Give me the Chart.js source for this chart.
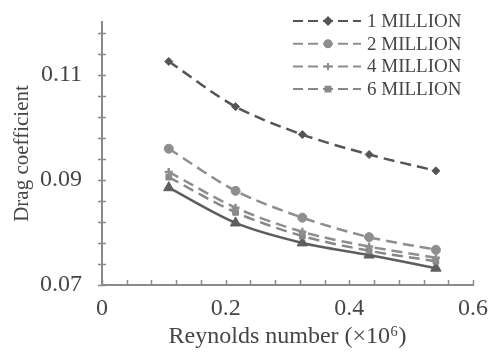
<!DOCTYPE html>
<html>
<head>
<meta charset="utf-8">
<script src="https://cdn.jsdelivr.net/npm/chart.js@4.4.1/dist/chart.umd.min.js"></script>
<style>
  html, body { margin: 0; padding: 0; background: #fff; }
</style>
</head>
<body>
<canvas id="myChart" width="489" height="354"></canvas>
<script>
// datos
const reynolds = [0.108, 0.216, 0.324, 0.432, 0.54];
const cd1M = [0.1125, 0.1039, 0.0986, 0.0948, 0.0917];
const cd2M = [0.0959, 0.0879, 0.0828, 0.0791, 0.0767];
const cd4M = [0.0915, 0.0847, 0.0801, 0.0773, 0.0752];
const cd6M = [0.0905, 0.0838, 0.0793, 0.0765, 0.0745];
const cdBase = [0.0885, 0.0818, 0.0780, 0.0757, 0.0732];
const seriesLabels = ['1 MILLION', '2 MILLION', '4 MILLION', '6 MILLION', ''];

// ticks de los ejes
const xTickValues = [0, 0.04, 0.08, 0.12, 0.16, 0.2, 0.24, 0.28, 0.32, 0.36, 0.4, 0.44, 0.48, 0.52, 0.56, 0.6];
const xMajor = [0, 0.2, 0.4, 0.6];
const xTickLabels = ['0', '0.2', '0.4', '0.6'];
const yTickValues = [0.07, 0.074, 0.078, 0.082, 0.086, 0.09, 0.094, 0.098, 0.102, 0.106, 0.11, 0.114, 0.118];
const yMajor = [0.07, 0.09, 0.11];
const yTickLabels = ['0.07', '0.09', '0.11'];

const serif = "'Liberation Serif', 'Times New Roman', serif";
const axisColor = '#8a8a8a';
const textColor = '#454545';

const toPoints = (ys) => reynolds.map((x, i) => ({ x: x, y: ys[i] }));

const labelFor = (majors, labels) => (v) => {
  const i = majors.findIndex(m => Math.abs(m - v) < 1e-6);
  return i >= 0 ? labels[i] : '';
};

function serie(label, ys, color, style, radius, dash) {
  return {
    label: label,
    data: toPoints(ys),
    borderColor: color,
    backgroundColor: color,
    borderWidth: 2.5,
    borderDash: dash,
    pointStyle: style,
    pointRadius: radius,
    pointBorderWidth: style === 'cross' ? 2.5 : 1,
    tension: 0.3,
    fill: false
  };
}

// sin relleno extra de las escalas, el area la fija layout.padding
function sinPadding(s) {
  s.paddingTop = 0;
  s.paddingBottom = 0;
  s.paddingLeft = 0;
  s.paddingRight = 0;
}

// ticks cruzando los ejes + leyenda dentro del area
const axisDeco = {
  id: 'axisDeco',
  afterDraw(chart) {
    const { ctx, chartArea: a, scales: { x, y } } = chart;
    ctx.save();
    ctx.strokeStyle = axisColor;
    ctx.lineWidth = 1.5;
    ctx.setLineDash([]);
    ctx.beginPath();
    y.ticks.forEach(t => {
      const py = Math.round(y.getPixelForValue(t.value)) + 0.5;
      ctx.moveTo(a.left - 4, py);
      ctx.lineTo(a.left + 4, py);
    });
    x.ticks.forEach(t => {
      const px = Math.round(x.getPixelForValue(t.value)) + 0.5;
      ctx.moveTo(px, a.bottom);
      ctx.lineTo(px, a.bottom - 5);
    });
    ctx.stroke();

    // leyenda
    ctx.font = '19px ' + serif;
    ctx.textBaseline = 'middle';
    ctx.textAlign = 'left';
    for (let i = 0; i < 4; i++) {
      const ds = chart.data.datasets[i];
      const ly = 21 + i * 22.7;
      ctx.strokeStyle = ds.borderColor;
      ctx.fillStyle = ds.borderColor;
      ctx.lineWidth = 2;
      ctx.setLineDash([10, 5]);
      ctx.beginPath();
      ctx.moveTo(293, ly);
      ctx.lineTo(361, ly);
      ctx.stroke();
      ctx.setLineDash([]);
      Chart.helpers.drawPoint(ctx, {
        pointStyle: ds.pointStyle, radius: 3.5, rotation: 0,
        borderWidth: 1.5
      }, 328, ly);
      ctx.fillStyle = textColor;
      ctx.fillText(ds.label, 367, ly + 1);
    }
    ctx.restore();
  }
};

const ctx = document.getElementById('myChart');
const myChart = new Chart(ctx, {
  type: 'line',
  data: {
    datasets: [
      serie(seriesLabels[0], cd1M, '#555555', 'rectRot', 4, [11, 6]),
      serie(seriesLabels[1], cd2M, '#8e8e8e', 'circle', 4.5, [11, 6]),
      serie(seriesLabels[2], cd4M, '#8e8e8e', 'cross', 4, [11, 6]),
      serie(seriesLabels[3], cd6M, '#888888', 'rect', 4, [11, 6]),
      serie(seriesLabels[4], cdBase, '#5e5e5e', 'triangle', 6, [])
    ]
  },
  options: {
    responsive: false,
    animation: false,
    layout: { padding: { top: 22, right: 16, left: 0, bottom: 0 } },
    plugins: {
      legend: { display: false },
      tooltip: { enabled: false }
    },
    scales: {
      x: {
        type: 'linear',
        min: 0,
        max: 0.6,
        afterBuildTicks: (s) => { s.ticks = xTickValues.map(v => ({ value: v })); },
        afterFit: (s) => { s.height = 69; sinPadding(s); },
        grid: { display: true, drawOnChartArea: false, drawTicks: false },
        border: { display: true, color: axisColor, width: 2 },
        ticks: {
          autoSkip: false,
          maxRotation: 0,
          padding: 9,
          color: textColor,
          font: { family: serif, size: 24 },
          callback: labelFor(xMajor, xTickLabels)
        },
        title: {
          display: true,
          text: 'Reynolds number (×10⁶)',
          color: textColor,
          font: { family: serif, size: 24, lineHeight: 1 },
          padding: { top: 0, bottom: 5 }
        }
      },
      y: {
        type: 'linear',
        min: 0.07,
        max: 0.12,
        afterBuildTicks: (s) => { s.ticks = yTickValues.map(v => ({ value: v })); },
        afterFit: (s) => { s.width = 102; sinPadding(s); },
        grid: { display: true, drawOnChartArea: false, drawTicks: false },
        border: { display: true, color: axisColor, width: 2 },
        ticks: {
          autoSkip: false,
          padding: 20,
          color: textColor,
          font: { family: serif, size: 24 },
          callback: labelFor(yMajor, yTickLabels)
        },
        title: {
          display: true,
          text: 'Drag coefficient',
          color: textColor,
          font: { family: serif, size: 21, lineHeight: 1 },
          padding: { top: 12, bottom: 0 }
        }
      }
    }
  },
  plugins: [axisDeco]
});
</script>
</body>
</html>
